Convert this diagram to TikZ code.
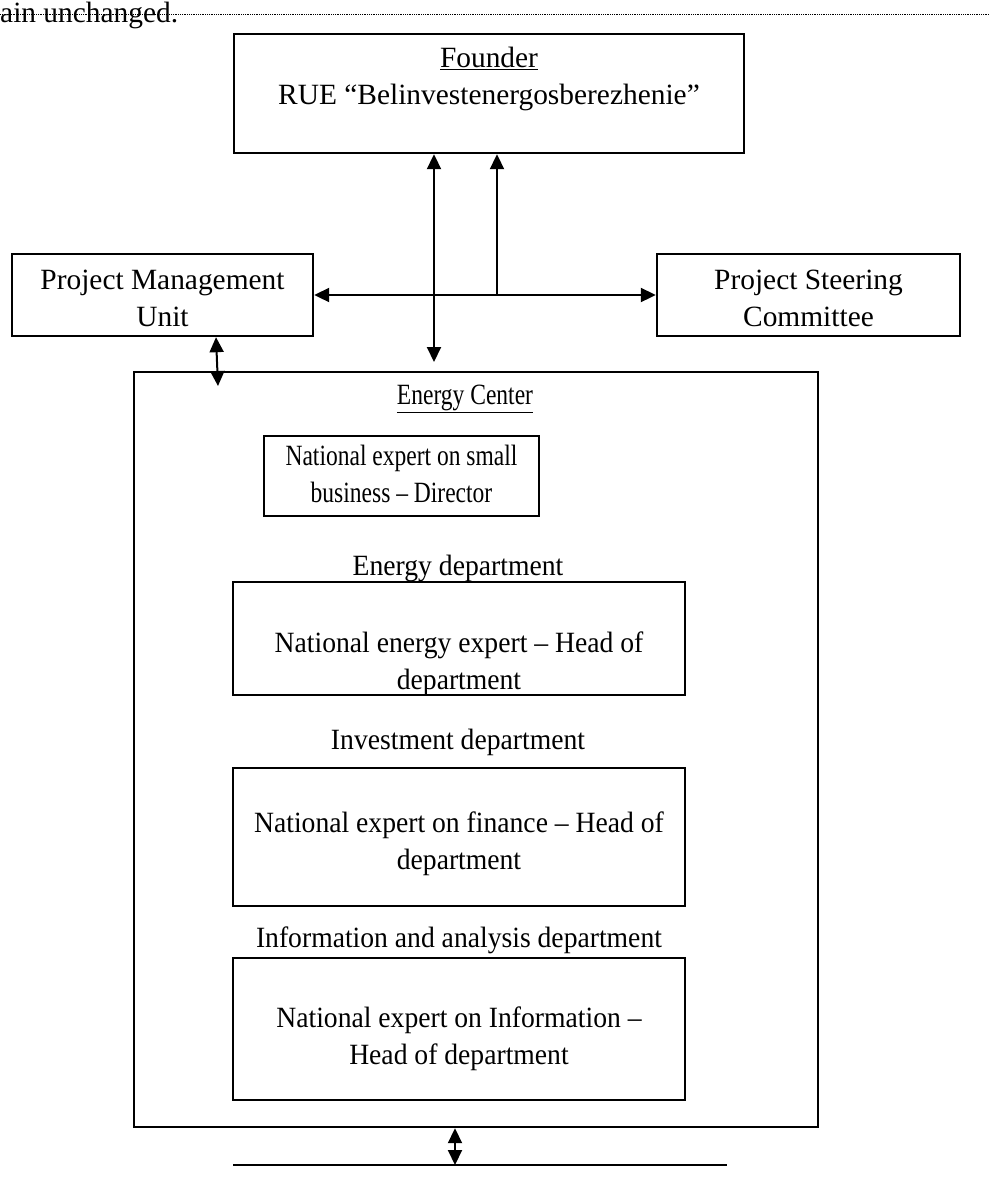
\documentclass[tikz,border=0pt]{standalone}
\usepackage{fontspec}
\setmainfont{Liberation Serif}
\newfontfamily\deptfont{Liberation Serif}[Ligatures=TeX, FakeStretch=0.94]
\newfontfamily\dirfont{Liberation Serif}[Ligatures=TeX, FakeStretch=0.80]
\usetikzlibrary{arrows.meta}

\tikzset{
  box/.style={draw, line width=2.4pt, inner sep=0pt},
  lbl/.style={align=center, inner sep=0pt},
  deptlbl/.style={lbl, font=\fontsize{29.4}{37}\deptfont},
  dirlbl/.style={lbl, font=\fontsize{29.4}{37}\dirfont},
  arr/.style={line width=2pt, -{Triangle[length=15pt,width=14pt]}},
  darr/.style={line width=2pt, {Triangle[length=15pt,width=14pt]}-{Triangle[length=15pt,width=14pt]}},
}

\begin{document}
\begin{tikzpicture}[x=1pt, y=-1pt, font=\fontsize{29.4}{37}\selectfont]
\useasboundingbox (0,0) rectangle (990,1195);

% Text left over from the page above
\node[lbl, anchor=base west] (prevtext) at (0,22) {ain unchanged.};
\coordinate (brkl) at (0,14);
\coordinate (brkr) at (990,14);
\draw[line width=0.8pt, densely dotted] (brkl) -- (brkr);

% Boxes
\node[box, minimum width=510pt, minimum height=119pt] (founder) at (489,93.5) {};
\node[box, minimum width=301pt, minimum height=82pt] (pmu) at (162.5,295) {};
\node[box, minimum width=303pt, minimum height=82pt] (psc) at (808.5,295) {};
\node[box, minimum width=684pt, minimum height=755pt] (ec) at (476,749.5) {};
\node[box, minimum width=275pt, minimum height=80pt] (director) at (401.5,476) {};
\node[box, minimum width=452pt, minimum height=113pt] (energy) at (459,638.5) {};
\node[box, minimum width=452pt, minimum height=138pt] (invest) at (459,837) {};
\node[box, minimum width=452pt, minimum height=142pt] (info) at (459,1029) {};

% Labels
\node[lbl] (foundertxt) at (489,78.5) {\underline{Founder}\\RUE “Belinvestenergosberezhenie”};
\node[lbl] (pmutxt) at (162.5,298) {Project Management\\Unit};
\node[lbl] (psctxt) at (808.5,298) {Project Steering\\Committee};
\node[dirlbl] (ectxt) at (465,399) {\underline{Energy Center}};
\node[dirlbl] (directortxt) at (401.5,474) {National expert on small\\business -- Director};
\node[deptlbl] (energylbl) at (458,568) {Energy department};
\node[deptlbl] (energytxt) at (459,664) {National energy expert -- Head of\\department};
\node[deptlbl] (investlbl) at (458,742) {Investment department};
\node[deptlbl] (investtxt) at (459,843.5) {National expert on finance -- Head of\\department};
\node[deptlbl] (infolbl) at (459,940) {Information and analysis department};
\node[deptlbl] (infotxt) at (459,1038.5) {National expert on Information --\\Head of department};

% Arrows
\coordinate (junc) at (497,294);
\coordinate (ectip) at (434,362);
\coordinate (pmutip) at (218,386);
\draw[darr] (ectip |- founder.south) -- (ectip);
\draw[darr] (pmu.east) -- (psc.west);
\draw[arr] (junc) -- (junc |- founder.south);
\draw[darr] ([xshift=53.5pt]pmu.south) -- (pmutip);

% Box below
\coordinate (nextl) at (233,1165);
\coordinate (nextr) at (727,1165);
\coordinate (ecbot) at ([xshift=-21pt]ec.south);
\draw[line width=2.4pt] (nextl) -- (nextr);
\draw[darr] (ecbot) -- (ecbot |- nextl);
\end{tikzpicture}
\end{document}
